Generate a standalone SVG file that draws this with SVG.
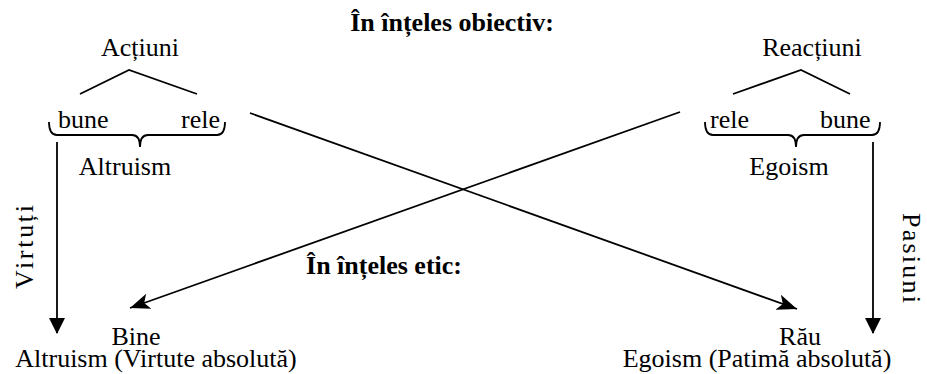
<svg xmlns="http://www.w3.org/2000/svg" width="927" height="374" viewBox="0 0 927 374">
<style>
text{font-family:"Liberation Serif","Times New Roman",serif;font-size:26px;fill:#000}
.b{font-weight:bold}
.m{text-anchor:middle}
.ln{stroke:#000;stroke-width:1.8;fill:none}
</style>
<defs>
<marker id="tri" markerWidth="16" markerHeight="18" refX="15" refY="8" orient="auto" markerUnits="userSpaceOnUse">
<path d="M0,0 L16,8 L0,16 Z" fill="#000"/>
</marker>
<marker id="barb" markerWidth="22" markerHeight="16" refX="20" refY="8" orient="auto" markerUnits="userSpaceOnUse">
<path d="M0,0 L20,8 L0,16 L5,8 Z" fill="#000"/>
</marker>
</defs>
<rect width="927" height="374" fill="#fff"/>
<g id="title-obiectiv"><text class="b m" x="452" y="31">În înțeles obiectiv:</text></g>
<g id="actiuni">
<text class="m" x="140" y="56">Acțiuni</text>
<path class="ln" d="M80,94 L129,70 L197,94"/>
<text x="58" y="128">bune</text>
<text x="181" y="128">rele</text>
<path class="ln" d="M49,122 Q49,135 57,135 L132,135 Q140,135 140,147 Q140,135 148,135 L217,135 Q225,135 225,122"/>
<text class="m" x="125" y="175">Altruism</text>
</g>
<g id="reactiuni">
<text class="m" x="812" y="56">Reacțiuni</text>
<path class="ln" d="M733,94 L801,70 L850,94"/>
<text x="710" y="128">rele</text>
<text x="820" y="128">bune</text>
<path class="ln" d="M705,122 Q705,135 713,135 L788,135 Q796,135 796,147 Q796,135 804,135 L872,135 Q880,135 880,122"/>
<text class="m" x="789" y="175">Egoism</text>
</g>
<g id="title-etic"><text class="b m" x="384" y="274">În înțeles etic:</text></g>
<g id="bine">
<text class="m" x="136" y="345">Bine</text>
<text class="m" x="156" y="367">Altruism (Virtute absolută)</text>
</g>
<g id="rau">
<text class="m" x="800" y="345">Rău</text>
<text class="m" x="757" y="367">Egoism (Patimă absolută)</text>
</g>
<g id="virtuti"><text class="m" transform="translate(33,247) rotate(-90)" textLength="84">Virtuți</text></g>
<g id="pasiuni"><text class="m" transform="translate(903,258) rotate(90)" textLength="90">Pasiuni</text></g>
<g id="connectors">
<line class="ln" x1="57" y1="142" x2="57" y2="333" marker-end="url(#tri)"/>
<line class="ln" x1="873" y1="142" x2="873" y2="333" marker-end="url(#tri)"/>
<line class="ln" x1="250" y1="113" x2="797" y2="309" marker-end="url(#barb)"/>
<line class="ln" x1="680" y1="112" x2="130" y2="308" marker-end="url(#barb)"/>
</g>
</svg>
